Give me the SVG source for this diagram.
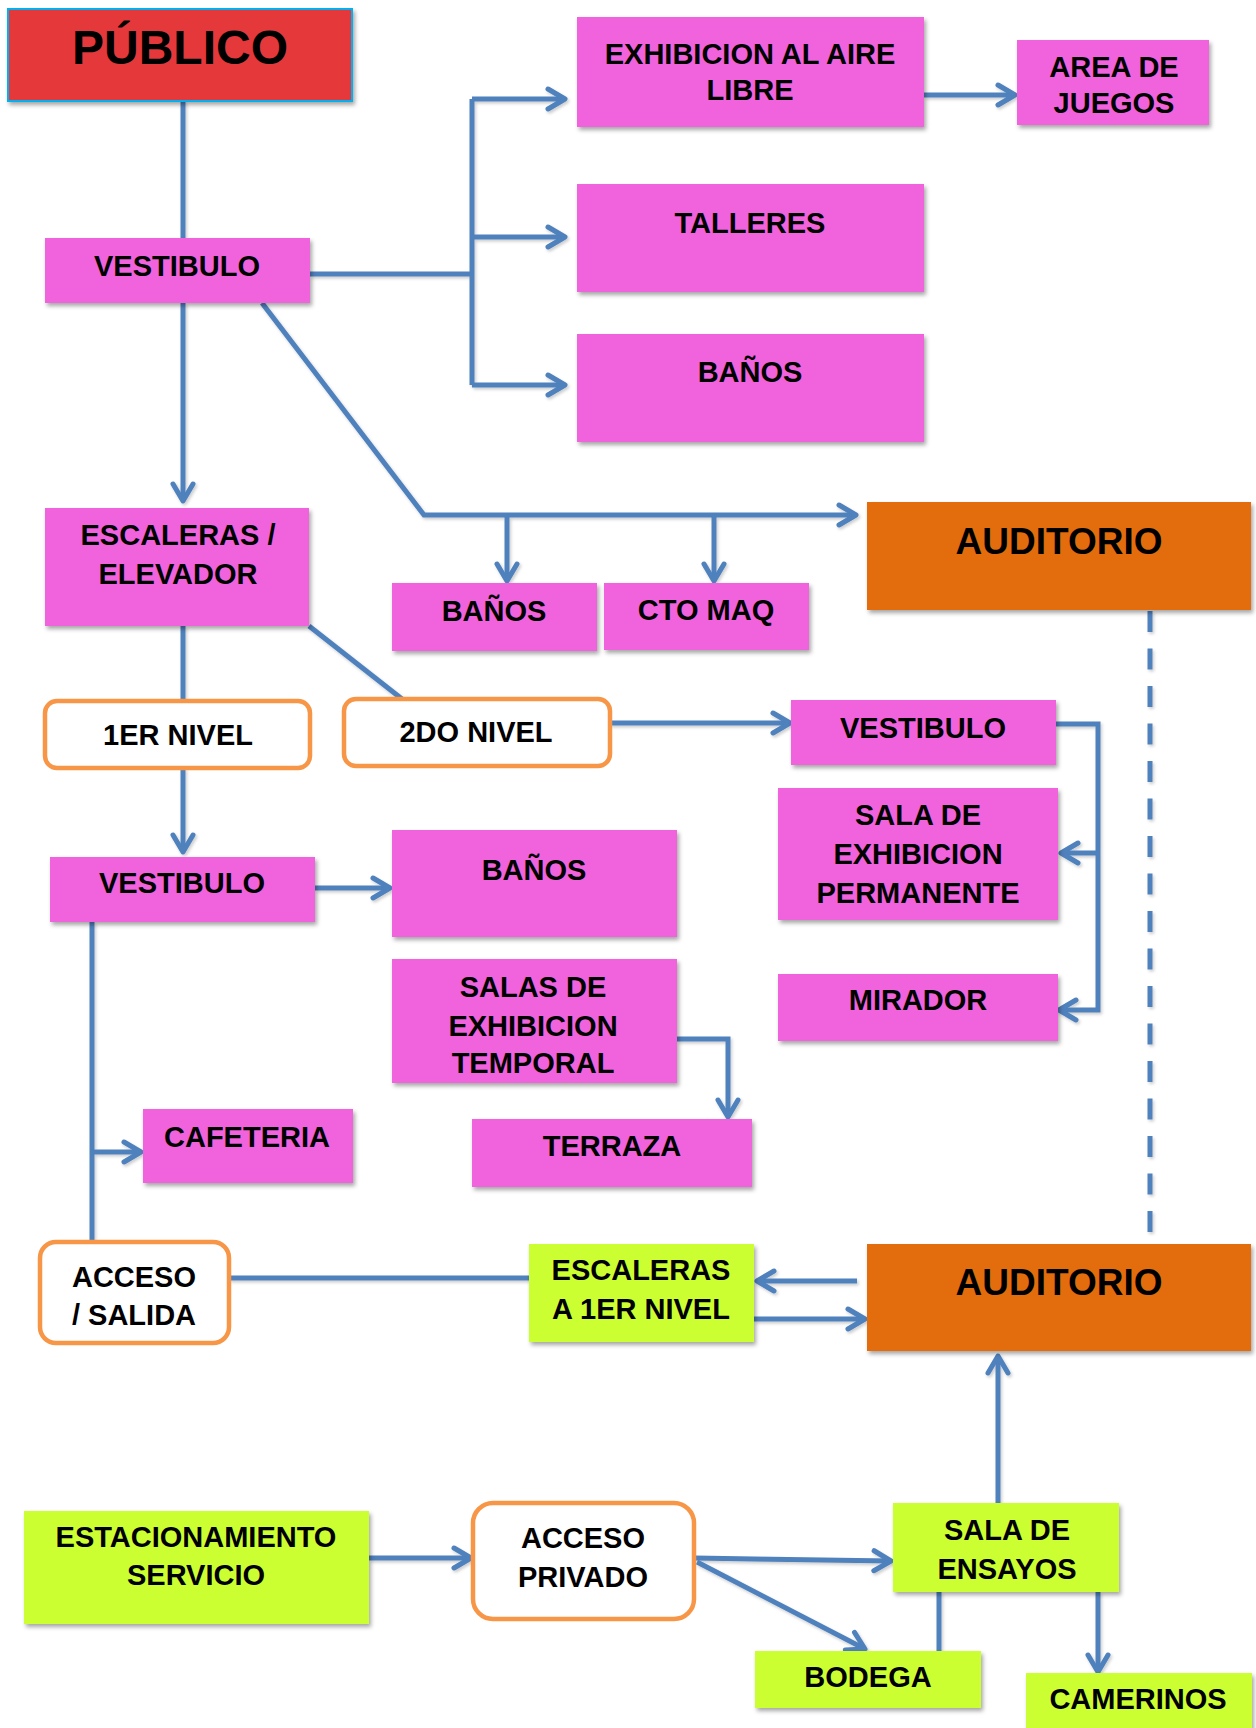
<svg xmlns="http://www.w3.org/2000/svg" width="1256" height="1728" viewBox="0 0 1256 1728">
  <style>
    .pink { fill: #F064DC; }
    .red { fill: #E5393B; stroke: #00B0F0; stroke-width: 2; }
    .orange { fill: #E36C0A; }
    .lime { fill: #CCFF33; }
    .round { fill: #FFFFFF; stroke: #F79646; stroke-width: 4.5; }
    .box { filter: url(#shadow); }
    .lbl { font-family: "Liberation Sans", Arial, sans-serif; font-weight: bold; font-size: 29px; fill: #000; text-anchor: middle; }
    .big { font-size: 37px; }
    .title { font-size: 48px; }
    .wire { fill: none; stroke: #4F81BD; stroke-width: 5; stroke-linejoin: miter; }
    .arrow { marker-end: url(#head); }
    .dash { stroke-dasharray: 21 16.5; }
  </style>
  <defs>
    <filter id="shadow" x="-10%" y="-10%" width="130%" height="140%">
      <feDropShadow dx="2" dy="3" stdDeviation="2" flood-color="#000" flood-opacity="0.35"/>
    </filter>
    <filter id="lineShadow" x="-10%" y="-10%" width="130%" height="130%">
      <feDropShadow dx="1.5" dy="2" stdDeviation="1.5" flood-color="#000" flood-opacity="0.2"/>
    </filter>
    <marker id="head" markerUnits="userSpaceOnUse" viewBox="-22 -14 26 28" refX="0" refY="0" markerWidth="26" markerHeight="28" orient="auto" overflow="visible">
      <path d="M-17,-10 L0,0 L-17,10" fill="none" stroke="#4F81BD" stroke-width="5" stroke-linecap="round" stroke-linejoin="round"/>
    </marker>
  </defs>

  <rect width="1256" height="1728" fill="#FFFFFF"/>

  <!-- connectors -->
  <g id="connectors" filter="url(#lineShadow)">
    <path class="wire" d="M183,101 V238"/>
    <path class="wire" d="M310,274 H472"/>
    <path class="wire" d="M472,99 V385"/>
    <path class="wire arrow" d="M472,99 H565"/>
    <path class="wire arrow" d="M472,237 H565"/>
    <path class="wire arrow" d="M472,385 H565"/>
    <path class="wire arrow" d="M924,95 H1015"/>
    <path class="wire arrow" d="M183,303 V501"/>
    <path class="wire arrow" d="M262,303 L424,515 H856"/>
    <path class="wire arrow" d="M507,515 V581"/>
    <path class="wire arrow" d="M714,515 V581"/>
    <path class="wire" d="M183,626 V701"/>
    <path class="wire" d="M309,626 L402,699"/>
    <path class="wire arrow" d="M610,723 H790"/>
    <path class="wire arrow" d="M1056,724 H1098 V1010 H1059"/>
    <path class="wire arrow" d="M1098,853 H1061"/>
    <path class="wire arrow" d="M183,768 V852"/>
    <path class="wire arrow" d="M315,888 H390"/>
    <path class="wire" d="M92,922 V1242"/>
    <path class="wire arrow" d="M92,1152 H141"/>
    <path class="wire arrow" d="M677,1039 H728 V1117"/>
    <path class="wire dash" d="M1150,611 V1244"/>
    <path class="wire" d="M229,1278 H529"/>
    <path class="wire arrow" d="M857,1281 H757"/>
    <path class="wire arrow" d="M754,1319 H865"/>
    <path class="wire arrow" d="M369,1558 H471"/>
    <path class="wire arrow" d="M694,1558 L891,1561"/>
    <path class="wire arrow" d="M697,1562 L865,1649"/>
    <path class="wire" d="M939,1592 V1651"/>
    <path class="wire arrow" d="M1098,1592 V1672"/>
    <path class="wire arrow" d="M998,1503 V1356"/>
  </g>

  <!-- upper level entry -->
  <g id="publico">
    <rect class="red box" x="8" y="9" width="344" height="92"/>
    <text class="lbl title" x="180" y="64">PÚBLICO</text>
  </g>
  <g id="vestibulo-acceso">
    <rect class="pink box" x="45" y="238" width="265" height="65"/>
    <text class="lbl" x="177" y="276">VESTIBULO</text>
  </g>
  <g id="exhibicion-aire-libre">
    <rect class="pink box" x="577" y="17" width="347" height="110"/>
    <text class="lbl" x="750" y="64">EXHIBICION AL AIRE</text>
    <text class="lbl" x="750" y="100">LIBRE</text>
  </g>
  <g id="area-juegos">
    <rect class="pink box" x="1017" y="40" width="192" height="85"/>
    <text class="lbl" x="1114" y="77">AREA DE</text>
    <text class="lbl" x="1114" y="113">JUEGOS</text>
  </g>
  <g id="talleres">
    <rect class="pink box" x="577" y="184" width="347" height="108"/>
    <text class="lbl" x="750" y="233">TALLERES</text>
  </g>
  <g id="banos-acceso">
    <rect class="pink box" x="577" y="334" width="347" height="108"/>
    <text class="lbl" x="750" y="382">BAÑOS</text>
  </g>
  <g id="escaleras-elevador">
    <rect class="pink box" x="45" y="508" width="264" height="118"/>
    <text class="lbl" x="178" y="545">ESCALERAS /</text>
    <text class="lbl" x="178" y="584">ELEVADOR</text>
  </g>
  <g id="banos-auditorio">
    <rect class="pink box" x="392" y="583" width="205" height="68"/>
    <text class="lbl" x="494" y="621">BAÑOS</text>
  </g>
  <g id="cto-maq">
    <rect class="pink box" x="604" y="583" width="205" height="67"/>
    <text class="lbl" x="706" y="620">CTO MAQ</text>
  </g>
  <g id="auditorio-superior">
    <rect class="orange box" x="867" y="502" width="384" height="108"/>
    <text class="lbl big" x="1059" y="554">AUDITORIO</text>
  </g>

  <!-- levels -->
  <g id="primer-nivel">
    <rect class="round" x="45" y="701" width="265" height="67" rx="12"/>
    <text class="lbl" x="178" y="745">1ER NIVEL</text>
  </g>
  <g id="segundo-nivel">
    <rect class="round" x="344" y="699" width="266" height="67" rx="12"/>
    <text class="lbl" x="476" y="742">2DO NIVEL</text>
  </g>
  <g id="vestibulo-segundo">
    <rect class="pink box" x="791" y="700" width="265" height="65"/>
    <text class="lbl" x="923" y="738">VESTIBULO</text>
  </g>
  <g id="sala-permanente">
    <rect class="pink box" x="778" y="788" width="280" height="132"/>
    <text class="lbl" x="918" y="825">SALA DE</text>
    <text class="lbl" x="918" y="864">EXHIBICION</text>
    <text class="lbl" x="918" y="903">PERMANENTE</text>
  </g>
  <g id="mirador">
    <rect class="pink box" x="778" y="974" width="280" height="67"/>
    <text class="lbl" x="918" y="1010">MIRADOR</text>
  </g>
  <g id="vestibulo-primer">
    <rect class="pink box" x="50" y="857" width="265" height="65"/>
    <text class="lbl" x="182" y="893">VESTIBULO</text>
  </g>
  <g id="banos-primer">
    <rect class="pink box" x="392" y="830" width="285" height="107"/>
    <text class="lbl" x="534" y="880">BAÑOS</text>
  </g>
  <g id="salas-temporal">
    <rect class="pink box" x="392" y="959" width="285" height="124"/>
    <text class="lbl" x="533" y="997">SALAS DE</text>
    <text class="lbl" x="533" y="1036">EXHIBICION</text>
    <text class="lbl" x="533" y="1073">TEMPORAL</text>
  </g>
  <g id="terraza">
    <rect class="pink box" x="472" y="1119" width="280" height="68"/>
    <text class="lbl" x="612" y="1156">TERRAZA</text>
  </g>
  <g id="cafeteria">
    <rect class="pink box" x="143" y="1109" width="210" height="74"/>
    <text class="lbl" x="247" y="1147">CAFETERIA</text>
  </g>
  <g id="acceso-salida">
    <rect class="round" x="40" y="1242" width="189" height="101" rx="16"/>
    <text class="lbl" x="134" y="1287">ACCESO</text>
    <text class="lbl" x="134" y="1325">/ SALIDA</text>
  </g>
  <g id="escaleras-primer">
    <rect class="lime box" x="529" y="1244" width="225" height="98"/>
    <text class="lbl" x="641" y="1280">ESCALERAS</text>
    <text class="lbl" x="641" y="1319">A 1ER NIVEL</text>
  </g>
  <g id="auditorio-inferior">
    <rect class="orange box" x="867" y="1244" width="384" height="107"/>
    <text class="lbl big" x="1059" y="1295">AUDITORIO</text>
  </g>

  <!-- service area -->
  <g id="estacionamiento">
    <rect class="lime box" x="24" y="1511" width="345" height="113"/>
    <text class="lbl" x="196" y="1547">ESTACIONAMIENTO</text>
    <text class="lbl" x="196" y="1585">SERVICIO</text>
  </g>
  <g id="acceso-privado">
    <rect class="round" x="473" y="1503" width="221" height="116" rx="20"/>
    <text class="lbl" x="583" y="1548">ACCESO</text>
    <text class="lbl" x="583" y="1587">PRIVADO</text>
  </g>
  <g id="sala-ensayos">
    <rect class="lime box" x="893" y="1503" width="226" height="89"/>
    <text class="lbl" x="1007" y="1540">SALA DE</text>
    <text class="lbl" x="1007" y="1579">ENSAYOS</text>
  </g>
  <g id="bodega">
    <rect class="lime box" x="755" y="1651" width="226" height="57"/>
    <text class="lbl" x="868" y="1687">BODEGA</text>
  </g>
  <g id="camerinos">
    <rect class="lime box" x="1026" y="1673" width="226" height="70"/>
    <text class="lbl" x="1138" y="1709">CAMERINOS</text>
  </g>
</svg>
